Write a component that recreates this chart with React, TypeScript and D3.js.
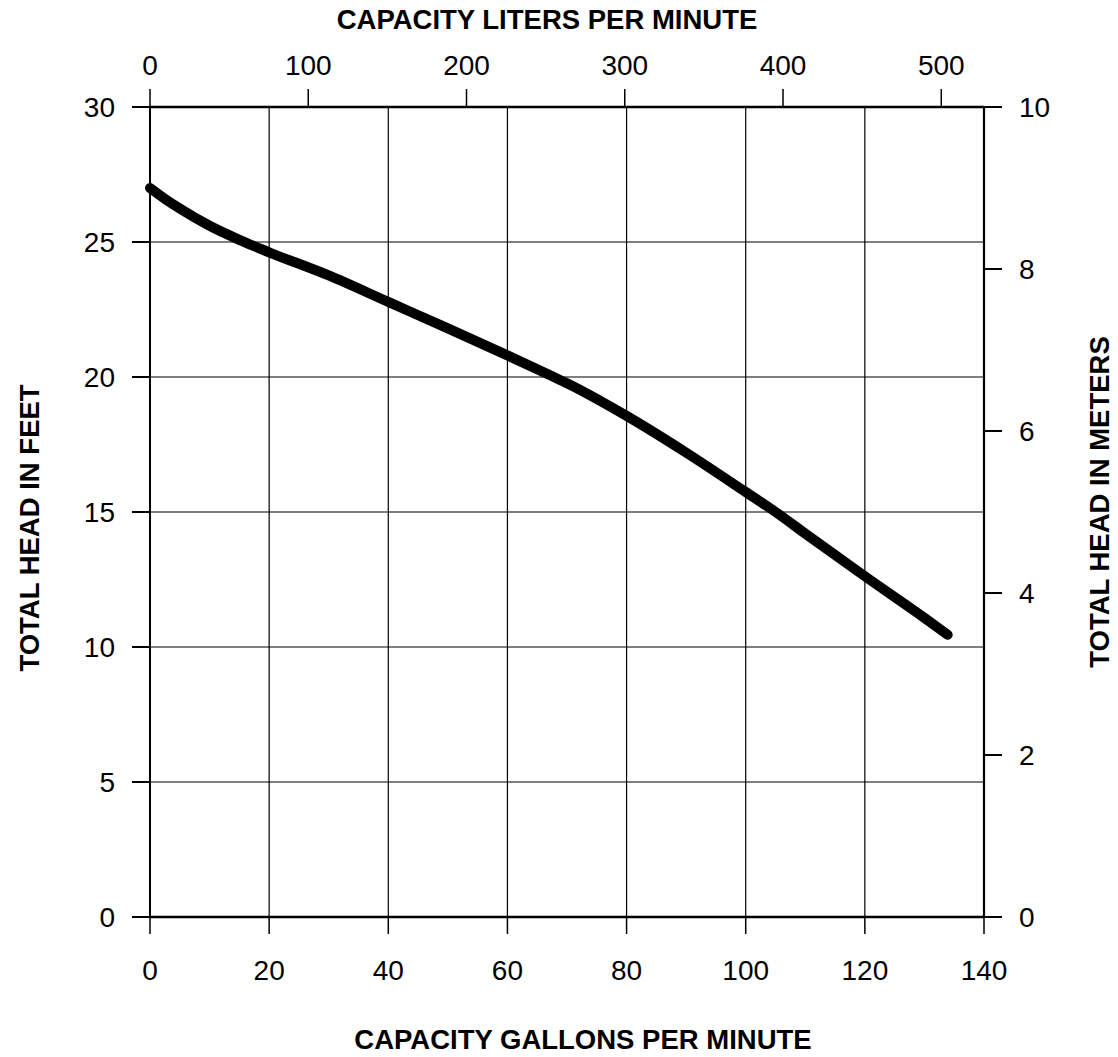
import React from "react";
import * as d3 from "d3";

const gpm = [0, 2.5, 5, 10, 15, 20, 30, 40, 50, 60, 67.8, 70, 80, 90, 100, 105, 110, 120, 130, 133.9];
const headFt = [27.0, 26.6, 26.24, 25.6, 25.08, 24.62, 23.76, 22.78, 21.8, 20.8, 20.0, 19.77, 18.56, 17.2, 15.74, 15.0, 14.2, 12.62, 11.08, 10.45];

const gpmTicks = [0, 20, 40, 60, 80, 100, 120, 140];
const literTicks = [0, 100, 200, 300, 400, 500];
const feetTicks = [0, 5, 10, 15, 20, 25, 30];
const meterTicks = [0, 2, 4, 6, 8, 10];

const W = 1118;
const H = 1057;
const FONT = "'Liberation Sans', Arial, Helvetica, sans-serif";

export default function App() {
  const x = d3.scaleLinear().domain([0, 140]).range([150, 984]);
  const xL = d3.scaleLinear().domain([0, 527]).range([150, 984]);
  const y = d3.scaleLinear().domain([0, 30]).range([917, 107]);
  const yM = d3.scaleLinear().domain([0, 10]).range([917, 107]);

  const pts: [number, number][] = gpm.map((g, i) => [g, headFt[i]]);
  const line = d3
    .line<[number, number]>()
    .x((d) => x(d[0]))
    .y((d) => y(d[1]))
    .curve(d3.curveMonotoneX);

  const [x0, x1] = x.range();
  const [yb, yt] = y.range();

  return (
    <svg
      width={W}
      height={H}
      style={{ position: "absolute", left: 0, top: 0, display: "block", background: "#fff" }}
      fontFamily={FONT}
    >
      <rect x={0} y={0} width={W} height={H} fill="#fff" />
      {gpmTicks.map((t) => (
        <line key={"vg" + t} x1={x(t)} x2={x(t)} y1={yt} y2={yb} stroke="#000" strokeWidth={1.2} />
      ))}
      {feetTicks.map((t) => (
        <line key={"hg" + t} x1={x0} x2={x1} y1={y(t)} y2={y(t)} stroke="#000" strokeWidth={1.2} />
      ))}
      <line x1={x0} x2={x1} y1={yt} y2={yt} stroke="#000" strokeWidth={2.5} />
      <line x1={x0} x2={x1} y1={yb} y2={yb} stroke="#000" strokeWidth={2.5} />
      <line x1={x0} x2={x0} y1={yt} y2={yb} stroke="#000" strokeWidth={2} />
      <line x1={x1} x2={x1} y1={yt} y2={yb} stroke="#000" strokeWidth={2.2} />

      {feetTicks.map((t) => (
        <g key={"lf" + t}>
          <line x1={132} x2={x0} y1={y(t)} y2={y(t)} stroke="#000" strokeWidth={2} />
          <text x={115} y={y(t)} dy="0.36em" textAnchor="end" fontSize={28}>
            {t}
          </text>
        </g>
      ))}
      {meterTicks.map((t) => (
        <g key={"rm" + t}>
          <line x1={x1} x2={1002} y1={yM(t)} y2={yM(t)} stroke="#000" strokeWidth={2} />
          <text x={1019} y={yM(t)} dy="0.36em" textAnchor="start" fontSize={28}>
            {t}
          </text>
        </g>
      ))}
      {gpmTicks.map((t) => (
        <g key={"bg" + t}>
          <line x1={x(t)} x2={x(t)} y1={yb} y2={934} stroke="#000" strokeWidth={1.5} />
          <text x={x(t)} y={980} textAnchor="middle" fontSize={28}>
            {t}
          </text>
        </g>
      ))}
      {literTicks.map((t) => (
        <g key={"tl" + t}>
          <line x1={xL(t)} x2={xL(t)} y1={yt} y2={89} stroke="#000" strokeWidth={1.5} />
          <text x={xL(t)} y={75} textAnchor="middle" fontSize={28}>
            {t}
          </text>
        </g>
      ))}

      <text x={547} y={29} textAnchor="middle" fontSize={27.5} fontWeight="bold">
        CAPACITY LITERS PER MINUTE
      </text>
      <text x={583} y={1049} textAnchor="middle" fontSize={27.5} fontWeight="bold">
        CAPACITY GALLONS PER MINUTE
      </text>
      <text
        transform="translate(39,528) rotate(-90)"
        textAnchor="middle"
        fontSize={27.5}
        fontWeight="bold"
      >
        TOTAL HEAD IN FEET
      </text>
      <text
        transform="translate(1109,502) rotate(-90)"
        textAnchor="middle"
        fontSize={27.5}
        fontWeight="bold"
      >
        TOTAL HEAD IN METERS
      </text>

      <path
        d={line(pts) || ""}
        fill="none"
        stroke="#000"
        strokeWidth={10}
        strokeLinecap="round"
        strokeLinejoin="round"
      />
    </svg>
  );
}
